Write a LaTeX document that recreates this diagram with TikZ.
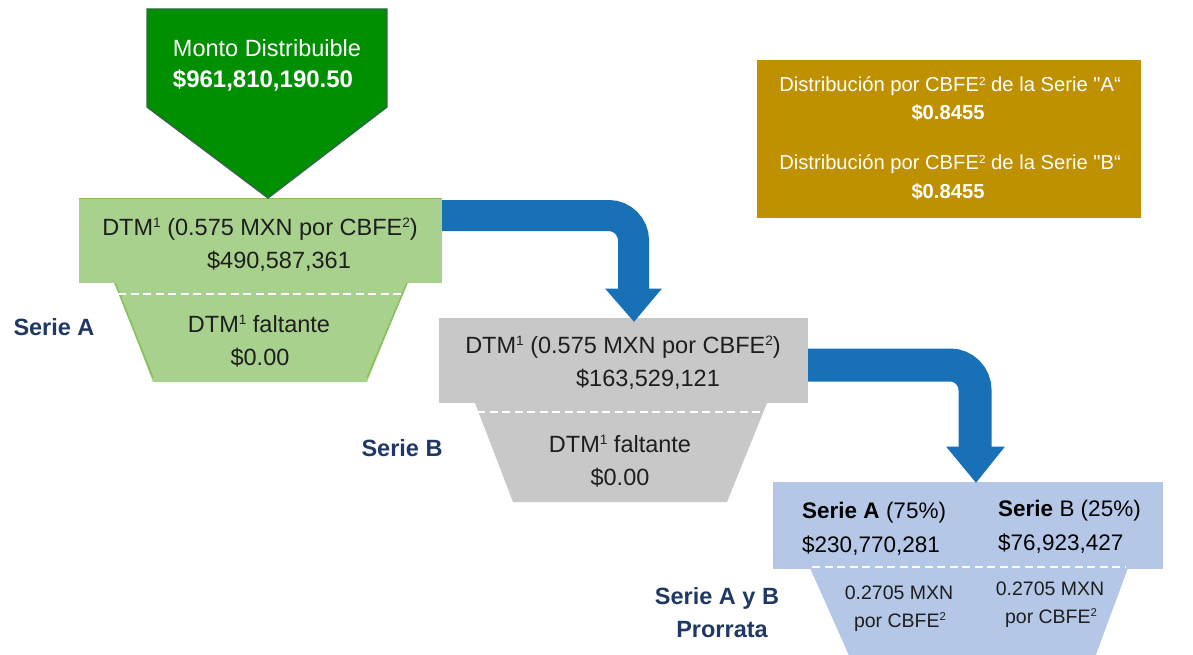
\documentclass[tikz,border=0pt]{standalone}
\usepackage{fontspec}
\setmainfont{Liberation Sans}
\newfontfamily\qfont{Liberation Sans}
\newcommand\mysup[1]{\raisebox{0.62ex}{\scalebox{0.58}{#1}}}
\definecolor{gdark}{RGB}{0,143,0}
\definecolor{gline}{RGB}{48,104,70}
\definecolor{gA}{RGB}{169,209,142}
\definecolor{gedge}{RGB}{140,192,92}
\definecolor{grayB}{RGB}{200,200,200}
\definecolor{blueC}{RGB}{180,199,231}
\definecolor{arrowblue}{RGB}{24,112,183}
\definecolor{gold}{RGB}{191,144,0}
\definecolor{navy}{RGB}{31,56,100}
\definecolor{ink}{RGB}{30,30,30}
\begin{document}
\begin{tikzpicture}[x=1pt,y=-1pt,
  txt/.style={anchor=base, inner sep=0pt, text=ink, font=\fontsize{23.5}{28}\selectfont},
  wtxt/.style={anchor=base, inner sep=0pt, text=white, font=\fontsize{23.5}{28}\selectfont},
  gtxt/.style={anchor=base, inner sep=0pt, text=white, font=\fontsize{20.2}{24}\selectfont},
  btxt/.style={anchor=base west, inner sep=0pt, text=black, font=\fontsize{22.5}{27}\selectfont},
  stxt/.style={anchor=base, inner sep=0pt, text=ink, font=\fontsize{19.5}{23}\selectfont},
  lbl/.style={anchor=base, inner sep=0pt, text=navy, font=\fontsize{23.5}{28}\selectfont\bfseries},
  boxrect/.style={inner sep=0pt, draw=none},
  dashline/.style={draw=white, line width=1.8pt, dash pattern=on 8pt off 4.5pt},
  arrowband/.style={draw=arrowblue, line width=#1, rounded corners=25pt},
]
\useasboundingbox (0,0) rectangle (1193,655);

% ---------- Serie A (green) ----------
\fill[gA] (115,283) -- (407,283) -- (367,382) -- (153,382) -- cycle;
\draw[gedge, line width=1.6pt] (115,283) -- (153,378);
\draw[gedge, line width=1.6pt] (407,283) -- (367,378);
\node[boxrect, fill=gA, minimum width=363pt, minimum height=84pt] (rectA) at (260.5,241) {};
\draw[gedge, line width=1pt] (rectA.north west) -- (rectA.north east);
\draw[dashline] (118,294) -- (403,294);

% ---------- Serie B (gray) ----------
\fill[grayB] (475,403) -- (767,403) -- (727,502) -- (513,502) -- cycle;
\node[boxrect, fill=grayB, minimum width=369pt, minimum height=85pt] (rectB) at (623.5,360.5) {};
\draw[dashline] (477,412) -- (763,412);

% ---------- Serie A y B (blue) ----------
\fill[blueC] (810,568) -- (1128,568) -- (1094,660) -- (851,660) -- cycle;
\node[boxrect, fill=blueC, minimum width=390pt, minimum height=87pt] (rectC) at (968,525.5) {};
\draw[dashline] (812,567) -- (1126,567);

% ---------- gold box ----------
\node[boxrect, fill=gold, minimum width=384pt, minimum height=158pt] (goldbox) at (949,139) {};

% ---------- Monto distribuible pentagon ----------
\coordinate (montoTip) at (268,198);
\draw[fill=gdark, draw=gline, line width=1.4pt] (147,9) -- (387,9) -- (387,107) -- (montoTip) -- (147,107) -- cycle;

% ---------- blue arrows ----------
\coordinate (a1base) at (633.5,289);
\coordinate (a1tip) at ([xshift=10.5pt,yshift=-4pt]rectB.north);
\draw[arrowband=31pt] ([yshift=25.5pt]rectA.east) -| (a1base);
\fill[arrowblue] (605,288.5) -- (662,288.5) -- (a1tip) -- cycle;

\coordinate (a2base) at (975,447);
\coordinate (a2tip) at ([xshift=8pt,yshift=-1pt]rectC.north);
\draw[arrowband=33pt] ([yshift=-4.5pt]rectB.east) -| (a2base);
\fill[arrowblue] (946,446.5) -- (1005,446.5) -- (a2tip) -- cycle;

% ---------- texts ----------
\node[wtxt] (tMonto) at (267,57) {Monto Distribuible};
\node[wtxt, font=\fontsize{24}{28}\selectfont\bfseries] (tMontoV) at (263,88) {\$961,810,190.50};

\node[txt] (tA1) at (260,235) {DTM\mysup{1} (0.575 MXN por CBFE\mysup{2})};
\node[txt] (tA2) at (279,268) {\$490,587,361};
\node[txt] (tA3) at (259,332) {DTM\mysup{1} faltante};
\node[txt] (tA4) at (260,365) {\$0.00};
\node[lbl] (lblA) at (54,335) {Serie A};

\node[txt] (tB1) at (623,353) {DTM\mysup{1} (0.575 MXN por CBFE\mysup{2})};
\node[txt] (tB2) at (648,386) {\$163,529,121};
\node[txt] (tB3) at (620,452) {DTM\mysup{1} faltante};
\node[txt] (tB4) at (620,485) {\$0.00};
\node[lbl] (lblB) at (402,456) {Serie B};

\node[btxt] (tC1) at (802,518) {\textbf{Serie A} (75\%)};
\node[btxt] (tC2) at (802,552) {\$230,770,281};
\node[btxt] (tC3) at (998,516) {\textbf{Serie} B (25\%)};
\node[btxt] (tC4) at (998,550) {\$76,923,427};
\node[stxt] (tC5) at (899,599) {0.2705 MXN};
\node[stxt] (tC6) at (900,627) {por CBFE\mysup{2}};
\node[stxt] (tC7) at (1050,595) {0.2705 MXN};
\node[stxt] (tC8) at (1051,623) {por CBFE\mysup{2}};
\node[lbl] (lblC1) at (717,604) {Serie A y B};
\node[lbl] (lblC2) at (722,637) {Prorrata};

\node[gtxt] (tG1) at (950,92) {Distribución por CBFE\mysup{2} de la Serie {\qfont"}A“};
\node[gtxt, font=\fontsize{20.2}{24}\selectfont\bfseries] (tG2) at (948,120) {\$0.8455};
\node[gtxt] (tG3) at (950,170) {Distribución por CBFE\mysup{2} de la Serie {\qfont"}B“};
\node[gtxt, font=\fontsize{20.2}{24}\selectfont\bfseries] (tG4) at (948,198) {\$0.8455};
\end{tikzpicture}
\end{document}
